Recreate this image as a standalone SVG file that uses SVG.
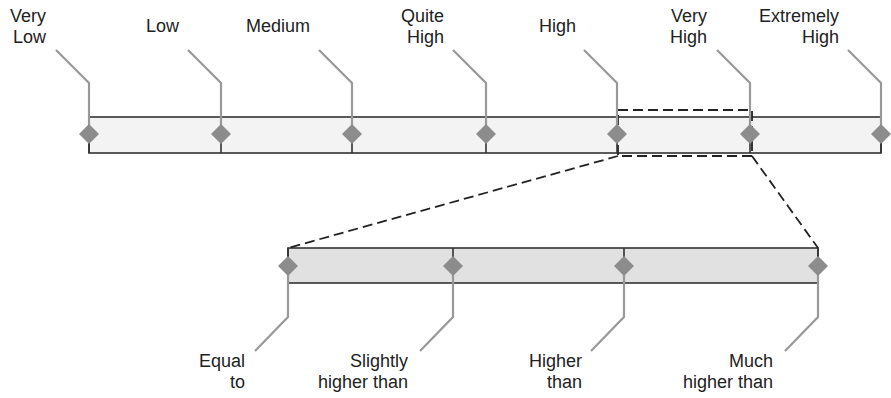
<svg xmlns="http://www.w3.org/2000/svg" width="891" height="398" viewBox="0 0 891 398">
<defs>
<style>
.bar{stroke:#333;stroke-width:1.6}
.tick{stroke:#333;stroke-width:1.6;fill:none}
.call{stroke:#999;stroke-width:2.2;fill:none}
.dia{fill:#8c8c8c}
.dash{stroke:#222;stroke-width:1.8;fill:none;stroke-dasharray:10 5}
text{font-family:"Liberation Sans",Arial,sans-serif;font-size:18px;fill:#222;text-anchor:end}
</style>
<path id="d" class="dia" d="M0,-10 L10,0 L0,10 L-10,0 Z"/>
</defs>
<g id="top-bar"><rect class="bar" x="89" y="117" width="792" height="36" fill="#f3f3f3"/></g>
<g id="bottom-bar"><rect class="bar" x="288" y="248" width="530" height="35" fill="#e1e1e1"/></g>
<g id="connectors">
<path class="dash" d="M618,110 H752 V156 H618 Z"/>
<path class="dash" d="M618,156 L288,248"/>
<path class="dash" d="M752,156 L818,248"/>
</g>
<g id="very-low"><path class="call" d="M56,50 L89,83 V134"/><path class="tick" d="M89,134 V153"/><use href="#d" x="89" y="134"/><text x="46" y="22">Very</text><text x="46" y="43">Low</text></g>
<g id="low"><path class="call" d="M188,50 L221,83 V134"/><path class="tick" d="M221,134 V153"/><use href="#d" x="221" y="134"/><text x="179" y="32">Low</text></g>
<g id="medium"><path class="call" d="M319,50 L352,83 V134"/><path class="tick" d="M352,134 V153"/><use href="#d" x="352" y="134"/><text x="310" y="32">Medium</text></g>
<g id="quite-high"><path class="call" d="M453,50 L486,83 V134"/><path class="tick" d="M486,134 V153"/><use href="#d" x="486" y="134"/><text x="444" y="22">Quite</text><text x="444" y="43">High</text></g>
<g id="high"><path class="call" d="M584,50 L617,83 V134"/><path class="tick" d="M617,134 V153"/><use href="#d" x="617" y="134"/><text x="576" y="32">High</text></g>
<g id="very-high"><path class="call" d="M717,50 L750,83 V134"/><path class="tick" d="M750,134 V153"/><use href="#d" x="750" y="134"/><text x="707" y="22">Very</text><text x="707" y="43">High</text></g>
<g id="extremely-high"><path class="call" d="M848,50 L881,83 V134"/><path class="tick" d="M881,134 V153"/><use href="#d" x="881" y="134"/><text x="839" y="22">Extremely</text><text x="839" y="43">High</text></g>
<g id="equal-to"><path class="tick" d="M288,248 V266"/><path class="call" d="M288,266 V317 L255,351"/><use href="#d" x="288" y="266"/><text x="245" y="367">Equal</text><text x="245" y="388">to</text></g>
<g id="slightly-higher"><path class="tick" d="M453,248 V266"/><path class="call" d="M453,266 V317 L420,351"/><use href="#d" x="453" y="266"/><text x="408" y="367">Slightly</text><text x="408" y="388">higher than</text></g>
<g id="higher-than"><path class="tick" d="M624,248 V266"/><path class="call" d="M624,266 V317 L591,351"/><use href="#d" x="624" y="266"/><text x="582" y="367">Higher</text><text x="582" y="388">than</text></g>
<g id="much-higher"><path class="tick" d="M818,248 V266"/><path class="call" d="M818,266 V317 L785,351"/><use href="#d" x="818" y="266"/><text x="773" y="367">Much</text><text x="773" y="388">higher than</text></g>
</svg>
